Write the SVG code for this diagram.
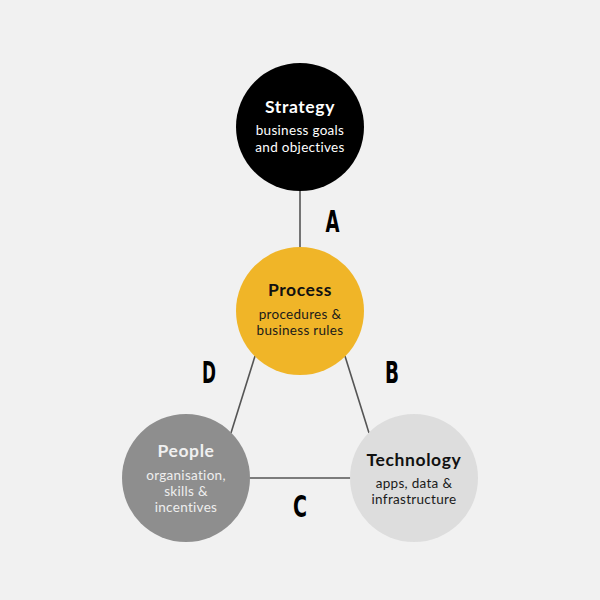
<svg xmlns="http://www.w3.org/2000/svg" width="600" height="600" viewBox="0 0 600 600">
<style>
.t{font-family:Lato,"Open Sans","Liberation Sans",sans-serif;font-weight:700;font-size:17.5px;letter-spacing:0.6px;text-anchor:middle}
.s{font-family:Lato,"Open Sans","Liberation Sans",sans-serif;font-size:13.5px;letter-spacing:0.3px;text-anchor:middle}
.lab{font-family:"DejaVu Sans Condensed","DejaVu Sans",sans-serif;font-weight:700;font-size:30px;text-anchor:middle;fill:#000}
.ln{stroke:#555;stroke-width:1.6;fill:none}
</style>
<rect width="600" height="600" fill="#f1f1f1"/>
<g id="connectors">
<line class="ln" x1="300" y1="190" x2="300" y2="248"/>
<line class="ln" x1="255" y1="356" x2="231" y2="433"/>
<line class="ln" x1="345" y1="356" x2="369" y2="433"/>
<line class="ln" x1="249" y1="478" x2="351" y2="478"/>
<text class="lab" x="332.5" y="232" textLength="14" lengthAdjust="spacingAndGlyphs">A</text>
<text class="lab" x="392" y="383" textLength="14" lengthAdjust="spacingAndGlyphs">B</text>
<text class="lab" x="300" y="517" textLength="14" lengthAdjust="spacingAndGlyphs">C</text>
<text class="lab" x="209" y="383" textLength="14" lengthAdjust="spacingAndGlyphs">D</text>
</g>
<g id="strategy">
<circle cx="300" cy="127" r="64" fill="#000"/>
<text class="t" x="300" y="113" fill="#fff">Strategy</text>
<text class="s" x="300" y="135" fill="#fff">business goals</text>
<text class="s" x="300" y="152" fill="#fff">and objectives</text>
</g>
<g id="process">
<circle cx="300" cy="311" r="64" fill="#f0b528"/>
<text class="t" x="300" y="296" fill="#111">Process</text>
<text class="s" x="300" y="319" fill="#1a1a1a">procedures &amp;</text>
<text class="s" x="300" y="335" fill="#1a1a1a">business rules</text>
</g>
<g id="people">
<circle cx="186" cy="478" r="64" fill="#8e8e8e"/>
<text class="t" x="186" y="457" fill="#f0f0f0">People</text>
<text class="s" x="186" y="480" fill="#eeeeee">organisation,</text>
<text class="s" x="186" y="496" fill="#eeeeee">skills &amp;</text>
<text class="s" x="186" y="512" fill="#eeeeee">incentives</text>
</g>
<g id="technology">
<circle cx="414" cy="478" r="64" fill="#dddddd"/>
<text class="t" x="414" y="466" fill="#111">Technology</text>
<text class="s" x="414" y="488" fill="#1a1a1a">apps, data &amp;</text>
<text class="s" x="414" y="504" fill="#1a1a1a">infrastructure</text>
</g>
</svg>
